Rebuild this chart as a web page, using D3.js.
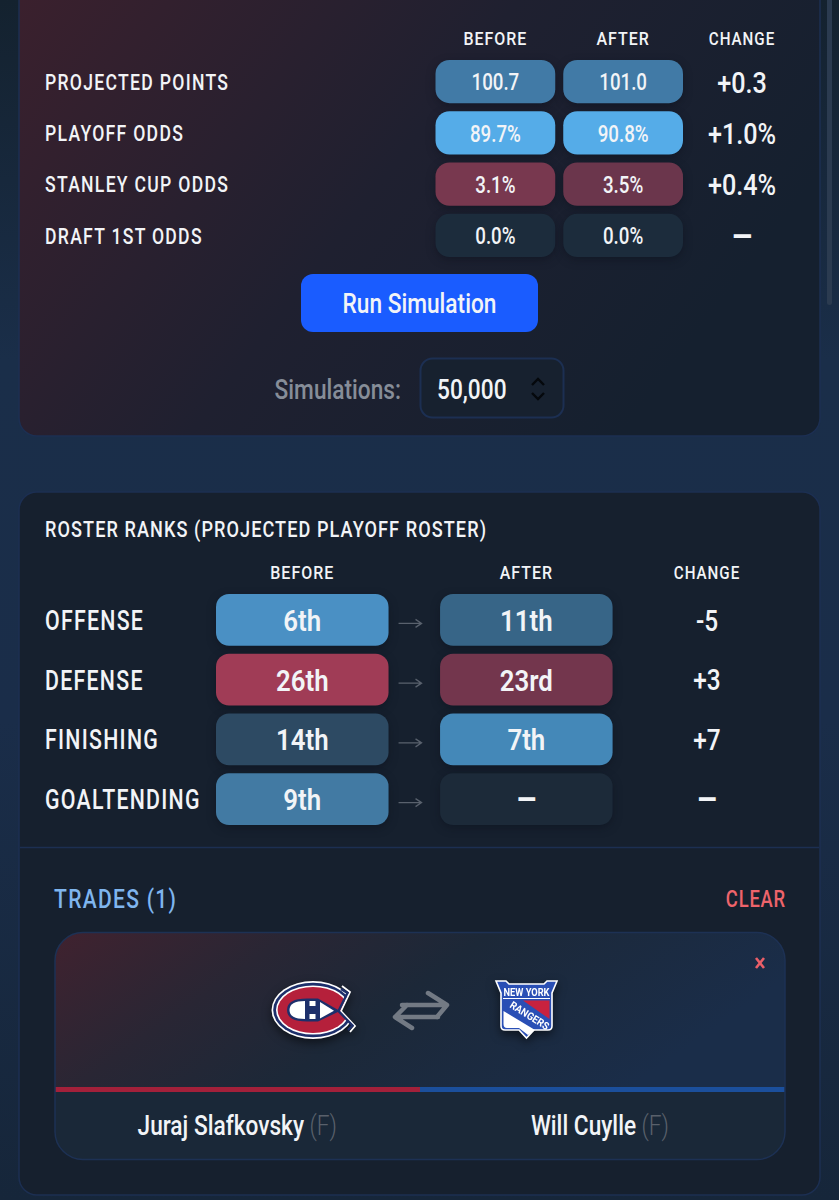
<!DOCTYPE html>
<html>
<head>
<meta charset="utf-8">
<script src="https://cdnjs.cloudflare.com/ajax/libs/d3/7.8.5/d3.min.js"></script>
<style>
html, body { margin: 0; padding: 0; background: #15212f; overflow: hidden; }
svg { display: block; }
text { font-family: Roboto, "Noto Sans", sans-serif; fill: #f2f4f7; }
</style>
</head>
<body>
<script>
// Values
var oddsLabels = ["PROJECTED POINTS", "PLAYOFF ODDS", "STANLEY CUP ODDS", "DRAFT 1ST ODDS"];
var oddsBefore = ["100.7", "89.7%", "3.1%", "0.0%"];
var oddsAfter = ["101.0", "90.8%", "3.5%", "0.0%"];
var oddsChange = ["+0.3", "+1.0%", "+0.4%", "–"];

var rankLabels = ["OFFENSE", "DEFENSE", "FINISHING", "GOALTENDING"];
var rankBefore = [6, 26, 14, 9];
var rankAfter = [11, 23, 7, null];
var rankChange = ["-5", "+3", "+7", "–"];

var columns = ["BEFORE", "AFTER"];
var players = ["Juraj Slafkovsky", "Will Cuylle"];

var width = 839;
var height = 1200;

var svg = d3.select("body").append("svg")
    .attr("width", width)
    .attr("height", height);

var defs = svg.append("defs");

function gradient(id, x1, y1, x2, y2, stops) {
    var g = defs.append("linearGradient").attr("id", id)
        .attr("x1", x1).attr("y1", y1).attr("x2", x2).attr("y2", y2);
    stops.forEach(function(s) {
        g.append("stop").attr("offset", s[0]).attr("stop-color", s[1]);
    });
}

gradient("pageBg", 0, 0, 0, 1, [[0, "#14222f"], [0.3, "#1a2e49"], [0.6, "#1a2d49"], [1, "#16263a"]]);
gradient("panelBg", 0, 0, 1, 0.45, [[0, "#3c202d"], [0.55, "#1f2030"], [1, "#15202f"]]);
gradient("cardBg", 0, 0, 1, 0.3, [[0, "#40222f"], [0.3, "#292634"], [0.55, "#1c2838"], [1, "#1a2d49"]]);

svg.append("rect").attr("width", width).attr("height", height).attr("fill", "url(#pageBg)");

// scrollbar
svg.append("rect").attr("x", 827).attr("y", -10).attr("width", 5).attr("height", 315).attr("rx", 2.5).attr("fill", "#2b3b50");

// panels
svg.append("rect").attr("x", 19).attr("y", -40).attr("width", 801).attr("height", 476)
    .attr("rx", 18).attr("fill", "url(#panelBg)").attr("stroke", "#1c2f52").attr("stroke-width", 1.5);
svg.append("rect").attr("x", 19).attr("y", 492).attr("width", 801).attr("height", 703)
    .attr("rx", 18).attr("fill", "#16202e").attr("stroke", "#1c2f52").attr("stroke-width", 1.5);
svg.append("line").attr("x1", 20).attr("x2", 819).attr("y1", 847.5).attr("y2", 847.5)
    .attr("stroke", "#1c2f52").attr("stroke-width", 1.5);

// text helper, narrows the installed font to the condensed look of the original
function label(parent, x, y, str, size, opts) {
    opts = opts || {};
    var t = parent.append("text")
        .attr("x", x).attr("y", y).attr("dy", "0.37em")
        .attr("text-anchor", opts.anchor || "start")
        .attr("font-size", size)
        .attr("font-weight", opts.weight || 500)
        .style("letter-spacing", (opts.spacing || 0) + "px")
        .style("fill", opts.fill || "#f2f4f7")
        .text(str);
    if (opts.tag) {
        t.append("tspan").attr("font-weight", 300).style("fill", "#59606b").text(" " + opts.tag);
    }
    var squeeze = opts.squeeze || 0.84;
    t.attr("textLength", t.node().getComputedTextLength() * squeeze)
        .attr("lengthAdjust", "spacingAndGlyphs");
    return t;
}

function pill(parent, x, y, w, h, r, fill) {
    parent.append("rect")
        .attr("x", x).attr("y", y).attr("width", w).attr("height", h).attr("rx", r)
        .attr("fill", fill)
        .style("filter", "drop-shadow(0px 3px 5px rgba(5,10,20,0.35))");
}

// dashes are wider and heavier in the original
function changeText(parent, x, y, str, size) {
    if (str === "–") return label(parent, x, y, str, size + 4, {anchor: "middle", weight: 700, squeeze: 1});
    return label(parent, x, y, str, size, {anchor: "middle"});
}

// ---- odds table
var oddsY = d3.scaleBand().domain(oddsLabels).range([60, 257]).paddingInner(8 / 51);
var oddsX = d3.scaleBand().domain(columns).range([435.5, 683]).paddingInner(8 / 128);
var oddsChangeX = 742;

var oddsFill = d3.scaleOrdinal()
    .domain(["100.7", "101.0", "89.7%", "90.8%", "3.1%", "3.5%", "0.0%"])
    .range(["#417aa6", "#417aa6", "#55ace8", "#55ace8", "#78384f", "#6b364c", "#1c2c3c"]);

var odds = svg.append("g").attr("class", "odds");

columns.forEach(function(c) {
    label(odds, oddsX(c) + oddsX.bandwidth() / 2, 38, c, 19, {anchor: "middle", spacing: 1.2});
});
label(odds, oddsChangeX, 38, "CHANGE", 19, {anchor: "middle", spacing: 1.2, squeeze: 0.8});

oddsLabels.forEach(function(name, i) {
    var y = oddsY(name), h = oddsY.bandwidth(), mid = y + h / 2;
    label(odds, 45, mid, name, 22, {spacing: 1.6, squeeze: 0.8});
    [oddsBefore[i], oddsAfter[i]].forEach(function(v, j) {
        var x = oddsX(columns[j]);
        pill(odds, x, y, oddsX.bandwidth(), h, 14, oddsFill(v));
        label(odds, x + oddsX.bandwidth() / 2, mid, v, 24, {anchor: "middle", squeeze: 0.78});
    });
    changeText(odds, oddsChangeX, mid, oddsChange[i], 30);
});

// run button and select
svg.append("rect").attr("x", 301).attr("y", 274).attr("width", 237).attr("height", 58).attr("rx", 12).attr("fill", "#1a5cff");
label(svg, 419.5, 303.5, "Run Simulation", 27, {anchor: "middle", weight: 500});
label(svg, 401, 389, "Simulations:", 27, {anchor: "end", fill: "#868d98", weight: 500});
svg.append("rect").attr("x", 420.5).attr("y", 358.5).attr("width", 143).attr("height", 59).attr("rx", 12)
    .attr("fill", "#17212f").attr("stroke", "#1c2f52").attr("stroke-width", 2);
label(svg, 437, 389, "50,000", 27, {weight: 500});
svg.append("path").attr("d", "M532 385 L538 379 L544 385 M532 393 L538 399 L544 393")
    .attr("fill", "none").attr("stroke", "#05080c").attr("stroke-width", 2.4);

// ---- roster ranks
var rankY = d3.scaleBand().domain(rankLabels).range([594, 825]).paddingInner(8 / 60);
var rankX = d3.scaleBand().domain(columns).range([216, 612.6]).paddingInner(51.5 / 224);
var rankChangeX = 707;

var rankFill = d3.scaleLinear()
    .domain([6, 7, 9, 11, 14, 23, 26])
    .range(["#4a90c4", "#4488b8", "#427aa3", "#376587", "#2d4a63", "#73364d", "#a03c56"])
    .interpolate(d3.interpolateRgb);

function ordinal(n) {
    var tail = n % 100;
    if (tail > 10 && tail < 14) return n + "th";
    return n + (["th", "st", "nd", "rd"][n % 10] || "th");
}

var ranks = svg.append("g").attr("class", "ranks");

label(ranks, 45, 528.5, "ROSTER RANKS (PROJECTED PLAYOFF ROSTER)", 22, {spacing: 1.3, squeeze: 0.823});
columns.forEach(function(c) {
    label(ranks, rankX(c) + rankX.bandwidth() / 2, 572, c, 19, {anchor: "middle", spacing: 1.2});
});
label(ranks, rankChangeX, 572, "CHANGE", 19, {anchor: "middle", spacing: 1.2, squeeze: 0.8});

rankLabels.forEach(function(name, i) {
    var y = rankY(name), h = rankY.bandwidth(), mid = y + h / 2;
    label(ranks, 45, mid, name, 27, {spacing: 1.6, squeeze: 0.79});
    [rankBefore[i], rankAfter[i]].forEach(function(v, j) {
        var x = rankX(columns[j]);
        pill(ranks, x, y, rankX.bandwidth(), h, 13, v === null ? "#1c2a39" : rankFill(v));
        if (v === null) {
            label(ranks, x + rankX.bandwidth() / 2, mid, "–", 33, {anchor: "middle", weight: 700, squeeze: 1});
        } else {
            label(ranks, x + rankX.bandwidth() / 2, mid, ordinal(v), 30, {anchor: "middle", weight: 600, squeeze: 0.86});
        }
    });
    // arrow between the two pills
    var ax = rankX(columns[0]) + rankX.bandwidth();
    ranks.append("path")
        .attr("d", "M" + (ax + 10) + " " + (mid + 3.5) + " h23 m-6 -4 l6 4 l-6 4")
        .attr("fill", "none").attr("stroke", "#59616d").attr("stroke-width", 1.3);
    changeText(ranks, rankChangeX, mid, rankChange[i], 29);
});

// ---- trades
label(svg, 54, 898.5, "TRADES (1)", 26, {fill: "#7fb5ee", spacing: 1.6, squeeze: 0.81});
label(svg, 786, 898, "CLEAR", 23, {anchor: "end", fill: "#ee646b", spacing: 1, squeeze: 0.8});

var card = svg.append("g").attr("class", "card");
defs.append("clipPath").attr("id", "cardClip").append("rect")
    .attr("x", 55).attr("y", 932.5).attr("width", 730).attr("height", 227).attr("rx", 28);

card.append("rect").attr("x", 55).attr("y", 932.5).attr("width", 730).attr("height", 227).attr("rx", 28).attr("fill", "#1a2838");
var clipped = card.append("g").attr("clip-path", "url(#cardClip)");
clipped.append("rect").attr("x", 55).attr("y", 932).attr("width", 730).attr("height", 155).attr("fill", "url(#cardBg)");
clipped.append("rect").attr("x", 55).attr("y", 1087).attr("width", 365).attr("height", 5).attr("fill", "#a3203a");
clipped.append("rect").attr("x", 420).attr("y", 1087).attr("width", 365).attr("height", 5).attr("fill", "#1b4f9c");
card.append("rect").attr("x", 55).attr("y", 932.5).attr("width", 730).attr("height", 227).attr("rx", 28)
    .attr("fill", "none").attr("stroke", "#1d3154").attr("stroke-width", 1.5);

// remove mark
card.append("path").attr("d", "M756 958 L764 968 M764 958 L756 968")
    .attr("stroke", "#ea5f68").attr("stroke-width", 2.6).attr("fill", "none");

// swap icon
card.append("path")
    .attr("d", "M402 1005 H447 L428 993 M447 1005 L437 1017 M438 1017 H395 L412 1028 M395 1017 L407 1005")
    .attr("fill", "none").attr("stroke", "#737a84").attr("stroke-width", 4.5)
    .attr("stroke-linecap", "round").attr("stroke-linejoin", "round");

// Canadiens logo, the clip cuts the opening of the C out of the rings
var navy = "#1d2f6b", habsRed = "#b5203b";
defs.append("clipPath").attr("id", "habsOpen").append("path")
    .attr("d", "M-60 -40 L32 -40 L37 -18 L28 1 L43 16 L60 30 L60 40 L-60 40 Z");
var habs = card.append("g").attr("transform", "translate(313,1010)")
    .style("filter", "drop-shadow(0px 4px 5px rgba(0,0,0,0.5))");
var rings = habs.append("g").attr("clip-path", "url(#habsOpen)");
rings.append("ellipse").attr("rx", 41.5).attr("ry", 29).attr("fill", "#fff");
rings.append("ellipse").attr("rx", 39.8).attr("ry", 27.3).attr("fill", navy);
rings.append("ellipse").attr("rx", 37).attr("ry", 24.6).attr("fill", "#fff");
rings.append("ellipse").attr("rx", 35.4).attr("ry", 23).attr("fill", habsRed);
habs.append("path").attr("d", "M29 -24 L37 -18 L28 1 L42 16 L37 22").attr("fill", "none").attr("stroke", "#fff").attr("stroke-width", 1.8);
habs.append("path").attr("d", "M28 -21 L34.5 -17 L25.5 1 L39.5 15.5 L35 20").attr("fill", "none").attr("stroke", navy).attr("stroke-width", 2.4);
// inner H
habs.append("path").attr("d", "M-26 0 Q-26 -11.5 -6 -11.5 L5 -11.5 L27 1 L5 11.5 L-6 11.5 Q-26 11.5 -26 0 Z").attr("fill", navy);
habs.append("path").attr("d", "M-23.5 0 Q-23.5 -9 -8 -9 L-8 9 Q-23.5 9 -23.5 0 Z").attr("fill", "#fff");
habs.append("path").attr("d", "M7 -8 L21 0.8 L7 8.5 Z").attr("fill", "#fff");
habs.append("rect").attr("x", -3.5).attr("y", -9).attr("width", 6).attr("height", 5).attr("fill", "#fff");
habs.append("rect").attr("x", -3.5).attr("y", 4).attr("width", 6).attr("height", 5).attr("fill", "#fff");

// Rangers logo
var nyr = card.append("g").attr("transform", "translate(496,980)")
    .style("filter", "drop-shadow(0px 4px 5px rgba(0,0,0,0.5))");
var shield = "M0 1 L10 1 L13 4 L48 4 L51 1 L61 1 L56 13 L56 46 Q56 50 52 50 L38 50 L30.5 58 L23 50 L9 50 Q5 50 5 46 L5 13 Z";
nyr.append("path").attr("d", shield).attr("fill", "#2a4fb5").attr("stroke", "#fff").attr("stroke-width", 1.6);
nyr.append("path").attr("d", "M7.5 31 L39 50 L32 55 L23 48 L11 48 Q7.5 48 7.5 44 Z").attr("fill", "#fff");
nyr.append("path").attr("d", "M27 20.5 L53.5 20.5 L53.5 39 Z").attr("fill", "#c8223f");
nyr.append("line").attr("x1", 7).attr("x2", 54).attr("y1", 18.5).attr("y2", 18.5).attr("stroke", "#fff").attr("stroke-width", 1);
nyr.append("text").attr("x", 30.5).attr("y", 16).attr("text-anchor", "middle")
    .attr("font-size", 10).attr("font-weight", 700).attr("textLength", 46).attr("lengthAdjust", "spacingAndGlyphs")
    .style("fill", "#fff").text("NEW YORK");
nyr.append("text").attr("transform", "translate(13,27) rotate(32)")
    .attr("font-size", 10.5).attr("font-weight", 700).attr("textLength", 44).attr("lengthAdjust", "spacingAndGlyphs")
    .style("fill", "#fff").text("RANGERS");

// player names with the position tag in the same text
var nameEnd = d3.scalePoint().domain(players).range([337, 669]);
players.forEach(function(p) {
    label(card, nameEnd(p), 1125.5, p, 27, {anchor: "end", weight: 500, tag: "(F)"});
});
</script>
</body>
</html>
